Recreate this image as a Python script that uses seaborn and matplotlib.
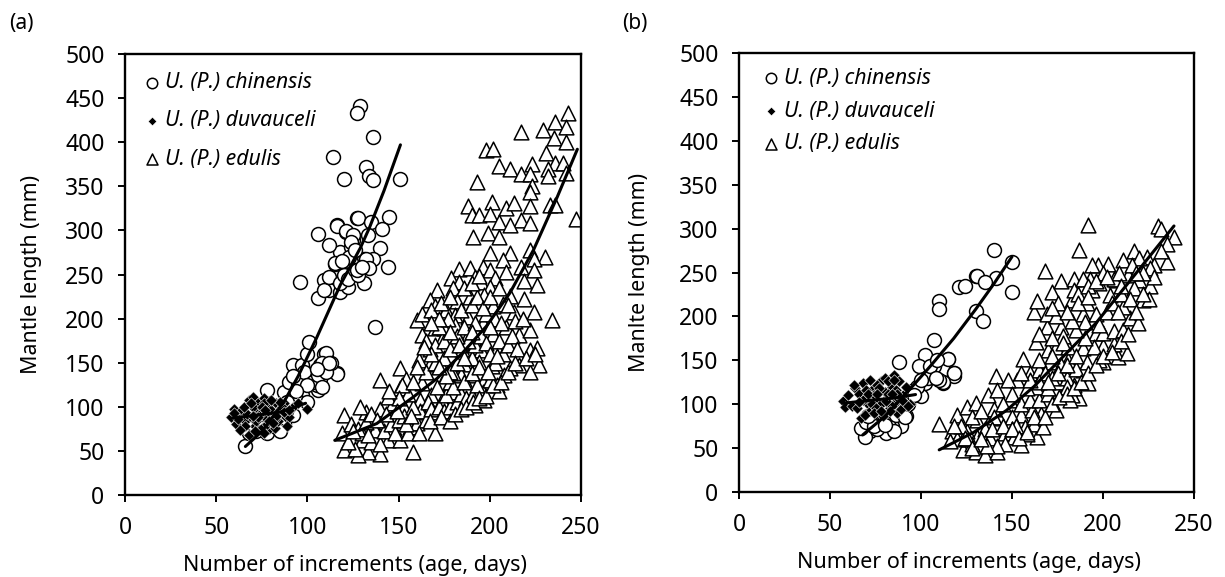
import matplotlib
matplotlib.use("Agg")
import matplotlib.pyplot as plt
import seaborn as sns

sns.set_theme(style="white")
plt.rcParams['font.family'] = ['Noto Sans', 'DejaVu Sans']

# ---------- panel (a) ----------
a_chi_x = [66,72,78,83,87,92,63,78,87,90,92,97,97,100,100,100,101,106,107,107,109,111,116,110,116,
           96,106,109,112,118,122,109,116,125,115,112,118,125,124,121,116,106,127,131,
           129,127,136,114,120,132,134,136,151,145,128,135,141,116,121,133,125,124,140,112,136,132,144,134,131,115,124,137,
           68,70,73,75,80,82,85,88,93,95,103,104,105,108,113,118,120,122,126,128,123,119,127,130,126,
           95,98,103,106,110,112,105,100,94,92,89,108]
a_chi_y = [55,73,70,77,81,91,85,119,117,128,147,147,113,106,134,160,174,119,132,147,160,153,138,161,137,
           241,223,244,232,230,236,232,253,262,262,247,276,289,281,298,306,296,314,268,
           441,433,406,383,358,372,362,357,358,315,314,310,302,305,299,295,295,287,280,283,268,268,259,257,240,263,264,190,
           70,80,86,92,84,100,72,95,112,125,128,140,125,150,150,240,250,245,255,250,270,265,255,258,278,
           131,140,128,136,140,150,143,125,118,135,105,122]
a_duv_x = [58,60,61,64,66,68,68,70,71,72,73,75,76,77,78,79,80,82,83,84,85,87,88,90,92,95,100,
           62,64,66,69,70,72,74,76,78,80,82,84,86,63,67,71,75,79,83,87,65,69,73,77,81,85,89,60,70,80,90,76]
a_duv_y = [89,98,80,92,84,68,108,111,78,96,104,76,110,88,100,75,92,76,104,84,98,104,88,89,100,104,98,
           86,96,78,88,100,84,92,104,80,96,86,94,100,74,92,72,100,84,90,94,100,104,88,96,82,106,78,93,90,108,96,70]
a_edu_x = [243,236,242,229,217,235,242,198,202,231,205,211,217,223,236,240,232,232,242,222,223,222,193,
           188,201,209,213,222,233,236,190,194,200,205,217,222,211,247,191,199,205,200,211,207,222,230,224,
           183,189,196,200,209,217,224,179,183,192,195,203,219,226,180,200,171,197,211,219,167,182,189,202,207,170,176,181,188,213,224,234,
           160,163,170,175,181,188,196,202,209,216,222,184,167,174,195,204,222,226,161,151,167,173,186,194,201,216,227,222,211,208,184,191,180,196,204,174,163,154,140,151,168,180,188,196,174,185,192,162,147,140,144,132,129,120,119,156,170,163,169,153,148,143,137,130,144,151,158,140,133,128,120,124,
           130,135,140,126,122,128,132,135,142,146,148,150,153,155,160,162,158,165,166,168,172,175,178,176,171,178,182,184,187,190,193,197,200,205,155,152,158,150,145,165,160,170,175,178,182,185,190,192,188,195,198,200,203,205,207,210,212,215,165,170,175,178,182,186,192,198,203,206,172,177,184,190,193,196,200,205,210,214,218,163,168,173,178,186,190,194,
           125,133,138,143,149,154,157,161,167,173,178,181,184,187,191,194,198,202,206,210,214,220,225,180,176,172,168,164,186,190,194,199,204,186,183,178,172,168,190,200]
a_edu_y = [433,423,417,414,412,405,400,391,392,388,373,370,364,375,376,376,370,362,365,364,350,344,355,
           328,332,325,331,328,329,329,317,318,319,310,312,308,306,313,292,297,293,274,274,266,278,270,268,
           256,257,258,255,253,258,255,246,241,247,242,246,243,238,235,236,232,227,226,222,221,220,224,214,216,214,210,204,202,208,208,198,
           198,181,189,189,193,181,195,183,191,181,187,172,166,177,164,168,164,167,153,144,149,147,149,151,146,147,147,140,144,136,136,136,138,128,125,127,127,132,130,121,113,117,123,117,108,104,102,108,104,98,111,94,100,91,70,77,70,94,94,100,85,83,74,62,62,62,49,47,49,45,51,81,
           70,60,58,52,60,75,83,92,72,80,70,85,90,70,82,95,100,85,105,98,100,95,100,113,122,128,105,115,110,112,125,108,130,118,115,125,128,110,118,140,145,150,155,140,150,165,155,170,175,180,172,160,150,175,160,170,180,165,175,170,175,165,180,190,195,205,200,195,190,200,210,215,225,212,225,235,215,197,200,205,210,218,225,235,240,248,
           72,68,85,92,95,80,90,70,84,88,84,92,98,100,106,110,112,125,128,140,150,155,160,122,135,145,160,168,128,138,145,140,158,155,170,185,200,195,185,190]
a_chi_line_x = [66,75,87,95,105,118,129,134,142,151]
a_chi_line_y = [55,72,105,135,178,238,280,303,345,397]
a_duv_line_x = [58,70,85,99]
a_duv_line_y = [87,90,94,104]
a_edu_line_x = [115,138,158,171,185,198,211,224,237,248]
a_edu_line_y = [62,81,111,132,161,191,229,278,338,392]

# ---------- panel (b) ----------
b_chi_x = [110,110,121,124,130,130,107,102,115,88,99,108,112,118,112,118,102,100,92,89,81,72,69,67,75,84,
           140,150,141,131,135,150,134,107,115,118,112,110,
           70,73,76,78,80,82,84,86,88,90,93,95,98,104,105,108,109,100,96,91,78,74,85,88,80,71]
b_chi_y = [217,208,234,235,246,206,173,156,152,148,144,144,139,135,124,132,124,109,86,75,67,69,63,73,78,75,
           276,262,244,246,239,228,195,144,152,135,125,127,
           80,85,72,90,84,78,96,88,105,95,100,115,120,130,143,130,150,127,110,85,92,75,70,100,76,86]
b_duv_x = [57,58,60,62,64,66,67,68,70,71,72,74,75,76,78,79,80,82,83,84,85,86,87,88,90,92,94,
           65,68,70,72,74,76,78,80,82,84,86,88,69,71,73,75,77,79,81,83,85,87,89,63,66,74,78,82,90,93,76,84]
b_duv_y = [104,97,110,98,118,112,84,124,108,100,127,118,94,104,126,88,130,108,96,120,133,102,90,126,110,120,100,
           96,105,116,92,110,122,100,114,126,98,116,106,88,112,100,96,118,86,104,92,128,112,94,122,102,90,92,112,104,98,112,112]
b_edu_x = [192,187,168,230,232,239,235,217,224,220,211,203,197,194,228,
           110,117,123,130,135,142,155,164,120,125,130,141,137,142,149,156,153,148,160,165,174,166,162,155,161,167,146,138,131,151,157,137,143,131,140,
           187,183,182,174,184,192,189,178,200,208,213,191,181,171,163,170,174,181,189,200,206,169,177,162,169,174,164,172,175,183,177,184,184,191,194,189,196,190,196,200,206,211,215,219,211,204,207,214,220,226,222,225,217,206,198,193,189,
           150,155,160,165,170,175,180,185,163,158,150,145,140,135,125,128,133,120,195,198,202,205,210,215,190,185,183,178,172,165,168,172,177,
           226,228,235,232,222,216,209,200,186,192,150,146,142,136,128,126,122,116,152,158,170,180,198,208,
           118,124,128,133,139,145,150,154,158,162,168,172,176,180,184,188,192,196,200,205,210,214,218,222,165,160,155,170,175,180,185,172,178,165,172,180,186,192,196,202,210,218]
b_edu_y = [304,276,252,303,299,291,283,274,268,266,264,260,259,259,259,
           78,69,48,46,42,46,53,63,88,97,101,132,110,116,105,152,127,127,135,139,93,89,78,88,93,74,67,61,63,63,74,78,84,82,95,
           107,110,105,118,122,124,139,135,148,154,158,148,150,148,171,162,165,165,164,166,169,188,188,205,203,200,217,228,215,219,240,243,230,215,230,203,203,194,181,181,183,184,198,192,211,224,241,247,241,235,219,220,232,243,238,243,243,
           85,100,105,105,112,125,130,140,120,118,112,100,85,72,70,85,92,60,165,190,205,215,225,220,175,185,195,178,175,150,135,130,145,
           255,245,262,275,250,258,250,250,225,235,72,55,52,52,55,60,75,58,75,66,118,120,150,205,
           75,62,50,60,72,75,72,62,68,85,85,100,108,112,118,125,135,145,155,160,172,180,205,225,125,128,135,125,135,145,155,155,170,180,210,205,215,222,240,245,235,250]
b_chi_line_x = [68,80,96,105,118,130,140,150]
b_chi_line_y = [65,86,122,143,175,208,237,268]
b_duv_line_x = [57,70,85,97]
b_duv_line_y = [101,104,107,111]
b_edu_line_x = [110,129,147,162,178,196,215,239]
b_edu_line_y = [48,68,93,120,154,192,241,303]

species = ["U. (P.) chinensis", "U. (P.) duvauceli", "U. (P.) edulis"]
y_labels = ["Mantle length (mm)", "Manlte length (mm)"]
x_label = "Number of increments (age, days)"
tags = ["(a)", "(b)"]

W, H = 1225, 577
fig = plt.figure(figsize=(W / 100, H / 100), dpi=100, facecolor="white")

def panel(box, chi, duv, edu, lines, ylabel, legend_anchor, spacing, ylabel_x):
    l, t, r, b = box
    ax = fig.add_axes([l / W, 1 - b / H, (r - l) / W, (b - t) / H])
    sns.scatterplot(x=chi[0], y=chi[1], ax=ax, marker="o", s=100, facecolor="white",
                    edgecolor="black", linewidth=1.1, label=species[0], zorder=2)
    sns.scatterplot(x=duv[0], y=duv[1], ax=ax, marker="D", s=34, color="black",
                    edgecolor="white", linewidth=0.4, label=species[1], zorder=3)
    sns.scatterplot(x=edu[0], y=edu[1], ax=ax, marker="^", s=112, facecolor="white",
                    edgecolor="black", linewidth=1.1, label=species[2], zorder=2)
    for lx, ly in lines:
        sns.lineplot(x=lx, y=ly, ax=ax, sort=False, estimator=None, color="black",
                     linewidth=2.2, legend=False, zorder=4)
    ax.set_xlim(0, 250)
    ax.set_ylim(0, 500)
    ax.set_xticks(range(0, 251, 50))
    ax.set_yticks(range(0, 501, 50))
    ax.tick_params(axis="both", direction="out", length=4.8, width=1.4, labelsize=16.5,
                   color="black", labelcolor="black", pad=10, bottom=True, left=True)
    for s in ax.spines.values():
        s.set_visible(True)
        s.set_linewidth(1.7)
        s.set_color("black")
    ax.set_xlabel(x_label, fontsize=15.5, color="black")
    ax.set_ylabel(ylabel, fontsize=15.4, color="black")
    ax.xaxis.set_label_coords(0.505, -0.136)
    ax.yaxis.set_label_coords(ylabel_x, 0.5)
    ax.legend(loc="upper left", bbox_to_anchor=legend_anchor, frameon=False,
              prop={"style": "italic", "size": 15.3}, labelspacing=spacing,
              handletextpad=0.0, handlelength=1.22, borderaxespad=0, borderpad=0,
              markerscale=0.75, labelcolor="black")
    return ax

panel((125, 54, 581, 495), (a_chi_x, a_chi_y), (a_duv_x, a_duv_y), (a_edu_x, a_edu_y),
      [(a_chi_line_x, a_chi_line_y), (a_duv_line_x, a_duv_line_y), (a_edu_line_x, a_edu_line_y)],
      y_labels[0], (0.03, 0.959), 0.81, -0.182)
panel((739, 53, 1194, 492), (b_chi_x, b_chi_y), (b_duv_x, b_duv_y), (b_edu_x, b_edu_y),
      [(b_chi_line_x, b_chi_line_y), (b_duv_line_x, b_duv_line_y), (b_edu_line_x, b_edu_line_y)],
      y_labels[1], (0.042, 0.966), 0.55, -0.196)

fig.text(9 / W, 1 - 24 / H, tags[0], fontsize=15, va="center", color="black")
fig.text(622 / W, 1 - 24 / H, tags[1], fontsize=15, va="center", color="black")

fig.savefig("out.png", dpi=100, facecolor="white")
